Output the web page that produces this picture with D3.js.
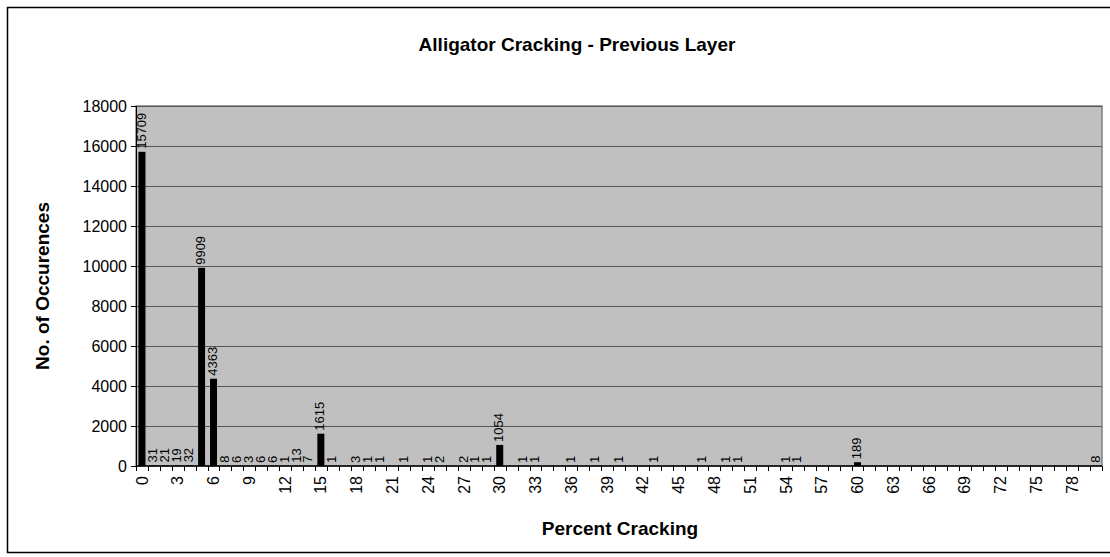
<!DOCTYPE html>
<html>
<head>
<meta charset="UTF-8">
<title>Alligator Cracking - Previous Layer</title>
<script src="https://cdn.jsdelivr.net/npm/d3@7"></script>
<style>
  body { margin: 0; background: #fff; }
  svg { display: block; font-family: Arial, "Liberation Sans", sans-serif; }
  .grid line { stroke: #555; stroke-width: 1px; }
  .axis path, .axis line { stroke: #000; }
  .axis text { fill: #000; }
</style>
</head>
<body>
<svg width="1110" height="557"></svg>
<script>
// percent cracking categories 0..80
var categories = d3.range(0, 81);
// occurrences per category (null = no data)
var counts = [
  15709, 31, 21, 19, 32, 9909, 4363, 8, 6, 3,
  6, 6, 1, 13, 7, 1615, 1, null, 3, 1,
  1, null, 1, null, 1, 2, null, 2, 1, 1,
  1054, null, 1, 1, null, null, 1, null, 1, null,
  1, null, null, 1, null, null, null, 1, null, 1,
  1, null, null, null, 1, 1, null, null, null, null,
  189, null, null, null, null, null, null, null, null, null,
  null, null, null, null, null, null, null, null, null, null,
  8
];
var yTicks = [0, 2000, 4000, 6000, 8000, 10000, 12000, 14000, 16000, 18000];

var svg = d3.select("svg");
var margin = {left: 136, right: 8, top: 106, bottom: 91};
var width = 1110 - margin.left - margin.right,
    height = 557 - margin.top - margin.bottom;

// chart border
svg.append("rect")
    .attr("x", 7.5).attr("y", 7.5)
    .attr("width", 1110).attr("height", 545)
    .attr("fill", "none").attr("stroke", "#000").attr("stroke-width", 1.5);

svg.append("text")
    .attr("x", 577).attr("y", 51)
    .attr("text-anchor", "middle")
    .style("font-size", "19px").style("font-weight", "bold")
    .text("Alligator Cracking - Previous Layer");

var g = svg.append("g").attr("transform", "translate(" + margin.left + "," + margin.top + ")");

var xb = d3.scaleBand().domain(categories).range([0, width]);
var y = d3.scaleLinear().domain([0, 18000]).range([height, 0]);

g.append("rect")
    .attr("width", width).attr("height", height)
    .attr("fill", "#c0c0c0")
    .attr("stroke", "#808080").attr("stroke-width", 1.5);

g.append("g").attr("class", "grid")
    .selectAll("line")
    .data(yTicks.slice(1))
    .enter().append("line")
    .attr("x1", 0).attr("x2", width)
    .attr("y1", function (d) { return Math.round(y(d)) + 0.5; })
    .attr("y2", function (d) { return Math.round(y(d)) + 0.5; });

var data = categories.map(function (c, i) { return {cat: c, value: counts[i]}; })
    .filter(function (d) { return d.value != null; });

g.selectAll(".bar")
    .data(data)
    .enter().append("rect")
    .attr("class", "bar")
    .attr("x", function (d) { return xb(d.cat) + (xb.bandwidth() - 7) / 2; })
    .attr("width", 7)
    .attr("y", function (d) { return y(d.value); })
    .attr("height", function (d) { return height - y(d.value); })
    .attr("fill", "#000");

g.selectAll(".label")
    .data(data)
    .enter().append("text")
    .attr("class", "label")
    .attr("transform", function (d) {
        return "translate(" + (xb(d.cat) + xb.bandwidth() / 2 - 1) + "," + (y(d.value) - 3) + ") rotate(-90)";
    })
    .attr("dy", "0.35em")
    .style("font-size", "13px")
    .text(function (d) { return d.value; });

// y axis
var yAxis = g.append("g").attr("class", "axis")
    .call(d3.axisLeft(y).tickValues(yTicks).tickSize(5).tickPadding(4).tickFormat(d3.format("d")));
yAxis.selectAll("text").style("font-size", "16px");

// x axis: ticks at category boundaries
var xAxisG = g.append("g").attr("class", "axis")
    .attr("transform", "translate(0," + height + ")");
xAxisG.append("line")
    .attr("x1", 0).attr("x2", width)
    .attr("stroke", "#000").attr("stroke-width", 1.5);
xAxisG.selectAll(".tick")
    .data(categories.concat([81]))
    .enter().append("line")
    .attr("x1", function (d) { return Math.round(d * xb.step()) + 0.5; })
    .attr("x2", function (d) { return Math.round(d * xb.step()) + 0.5; })
    .attr("y1", 0).attr("y2", 5)
    .attr("stroke", "#000");
xAxisG.selectAll(".xlab")
    .data(categories.filter(function (c) { return c % 3 === 0; }))
    .enter().append("text")
    .attr("transform", function (d) {
        return "translate(" + (xb(d) + xb.bandwidth() / 2) + ",10) rotate(-90)";
    })
    .attr("text-anchor", "end")
    .attr("dy", "0.35em")
    .style("font-size", "16px")
    .text(function (d) { return d; });

svg.append("text")
    .attr("transform", "translate(49,286) rotate(-90)")
    .attr("text-anchor", "middle")
    .style("font-size", "19px").style("font-weight", "bold")
    .text("No. of Occurences");

svg.append("text")
    .attr("x", 620).attr("y", 535)
    .attr("text-anchor", "middle")
    .style("font-size", "19px").style("font-weight", "bold")
    .text("Percent Cracking");
</script>
</body>
</html>
